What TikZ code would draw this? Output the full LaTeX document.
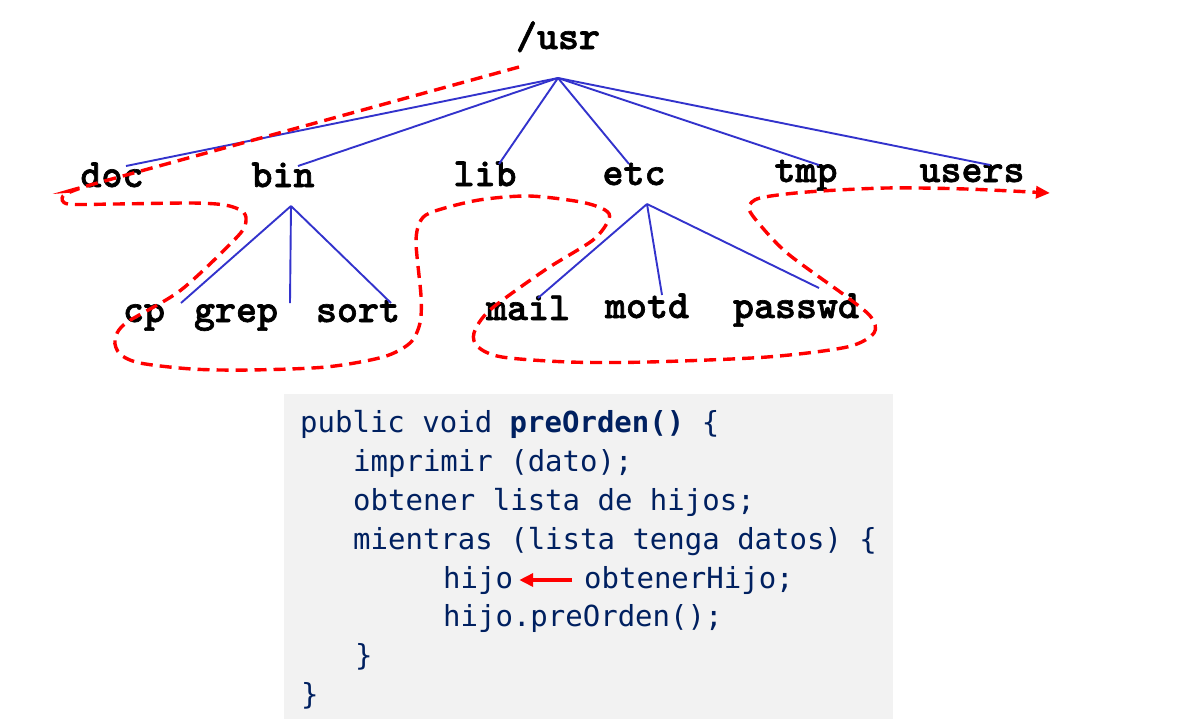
\documentclass[tikz,border=0pt]{standalone}
\usepackage{fontspec}
\usetikzlibrary{arrows.meta}
\newfontfamily\codefont{DejaVu Sans Mono}
\newfontfamily\treefont{lmmonolt10-bold.otf}[FakeBold=1.6]
\definecolor{treeblue}{RGB}{51,51,204}
\definecolor{codenavy}{RGB}{0,32,96}
\definecolor{codebg}{RGB}{242,242,242}
\definecolor{pathred}{RGB}{255,0,0}
\tikzset{
  tn/.style={anchor=base, inner sep=0pt, font=\treefont\fontsize{40}{40}\selectfont, text=black},
  cl/.style={anchor=base west, inner sep=0pt, font=\codefont\fontsize{29}{30}\selectfont, text=codenavy},
  edge/.style={draw=treeblue, line width=1.9pt},
  tour/.style={draw=pathred, line width=3.4pt, dash pattern=on 12pt off 7pt},
}
\begin{document}
\begin{tikzpicture}[x=1pt,y=-1pt]
\useasboundingbox (0,0) rectangle (1189,724);
% tree nodes
\node[tn] (usr) at (558,49) {/usr};
\node[tn] (doc) at (112,187) {doc};
\node[tn] (bin) at (283,187) {bin};
\node[tn] (lib) at (485,186) {lib};
\node[tn] (etc) at (634,185) {etc};
\node[tn] (tmp) at (806,182) {tmp};
\node[tn] (users) at (972,182) {users};
\node[tn] (cp) at (144,322) {cp};
\node[tn] (grep) at (236,322) {grep};
\node[tn] (sort) at (358,322) {sort};
\node[tn] (mail) at (528,320) {mail};
\node[tn] (motd) at (647,318) {motd};
\node[tn] (passwd) at (796,318) {passwd};
% connector end points
\coordinate (usrhub) at (558,78);
\coordinate (bindn) at (291,206);
\coordinate (etcdn) at (647,204);
\coordinate (docup) at (126,166);
\coordinate (binup) at (298,166);
\coordinate (libup) at (499,164);
\coordinate (etcup) at (629,164);
\coordinate (tmpup) at (819,165);
\coordinate (usersup) at (990,165);
\coordinate (cpup) at (181,303);
\coordinate (grepup) at (290,303);
\coordinate (sortup) at (391,303);
\coordinate (mailup) at (538,298);
\coordinate (motdup) at (662,295);
\coordinate (passwdup) at (819,288);
\draw[edge] (usrhub) -- (docup);
\draw[edge] (usrhub) -- (binup);
\draw[edge] (usrhub) -- (libup);
\draw[edge] (usrhub) -- (etcup);
\draw[edge] (usrhub) -- (tmpup);
\draw[edge] (usrhub) -- (usersup);
\draw[edge] (bindn) -- (cpup);
\draw[edge] (bindn) -- (grepup);
\draw[edge] (bindn) -- (sortup);
\draw[edge] (etcdn) -- (mailup);
\draw[edge] (etcdn) -- (motdup);
\draw[edge] (etcdn) -- (passwdup);
% traversal path
\draw[tour, -{Triangle[length=14pt,width=12pt]}] plot[smooth, tension=0.5] coordinates {
 (519,67) (101,182) (78,189) (63,196) (68,204) (115,204) (192,203) (225,205) (242,211) (246,220) (238,236)
 (181,290) (126,323) (115,340) (120,354) (140,363) (192,369) (249,370) (326,367) (383,357) (410,343)
 (420,323) (421,296) (416,242) (421,220) (435,211) (479,200) (529,196) (581,202) (605,210) (609,219)
 (593,240) (545,270) (490,310) (474,333) (478,347) (502,357) (569,362) (648,362) (767,357) (847,347)
 (874,333) (871,317) (847,297) (787,253) (756,220) (749,207) (760,198) (807,192) (886,188) (966,189) (1050,193)};
% code box
\fill[codebg] (284,394) rectangle (893,719);
\node[cl] (c1) at (300,432) {public void \textbf{preOrden()} \{};
\node[cl] (c2) at (353,471) {imprimir (dato);};
\node[cl] (c3) at (353,510) {obtener lista de hijos;};
\node[cl] (c4) at (353,549) {mientras (lista tenga datos) \{};
\node[cl] (c5a) at (443,588) {hijo};
\node[cl] (c5b) at (584,588) {obtenerHijo;};
\node[cl] (c6) at (443,626) {hijo.preOrden();};
\node[cl] (c7) at (355,665) {\}};
\node[cl] (c8) at (301,704) {\}};
\draw[draw=pathred, line width=4pt, -{Triangle[length=14pt,width=13pt]}] ([xshift=-12pt,yshift=8pt]c5b.base west) -- ([xshift=6pt,yshift=8pt]c5a.base east);
\end{tikzpicture}
\end{document}
